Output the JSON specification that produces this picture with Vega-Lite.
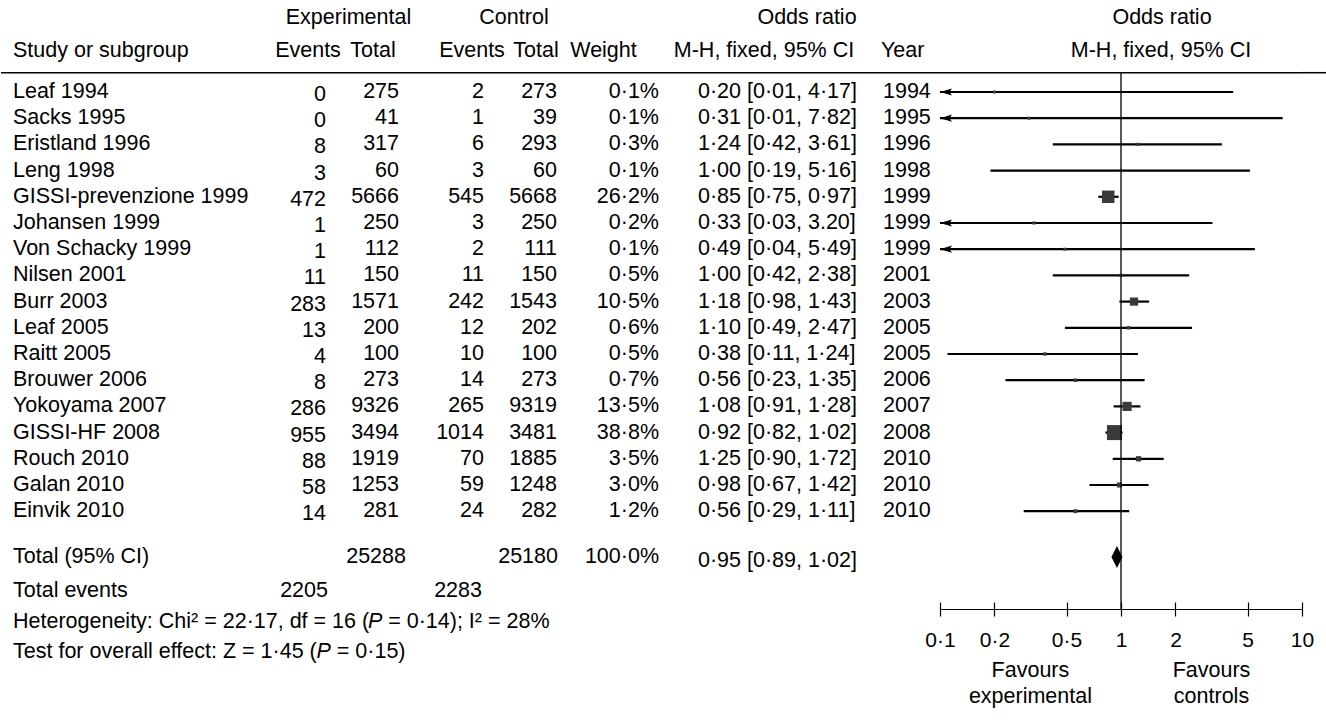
{
"$schema":"https://vega.github.io/schema/vega-lite/v6.json",
"padding":0,
"spacing":0,
"bounds":"flush",
"background":"white",
"config":{"view":{"stroke":null},"text":{"font":"Liberation Sans","fontSize":21.5,"fill":"black","baseline":"middle"},"concat":{"spacing":0}},
"datasets":{
"studies":[
{"study":"Leaf 1994","row":1,"eE":0,"eT":275,"cE":2,"cT":273,"wt":"0·1%","w":0.1,"ortxt":"0·20 [0·01, 4·17]","or":0.20,"lo":0.01,"hi":4.17,"year":1994},
{"study":"Sacks 1995","row":2,"eE":0,"eT":41,"cE":1,"cT":39,"wt":"0·1%","w":0.1,"ortxt":"0·31 [0·01, 7·82]","or":0.31,"lo":0.01,"hi":7.82,"year":1995},
{"study":"Eristland 1996","row":3,"eE":8,"eT":317,"cE":6,"cT":293,"wt":"0·3%","w":0.3,"ortxt":"1·24 [0·42, 3·61]","or":1.24,"lo":0.42,"hi":3.61,"year":1996},
{"study":"Leng 1998","row":4,"eE":3,"eT":60,"cE":3,"cT":60,"wt":"0·1%","w":0.1,"ortxt":"1·00 [0·19, 5·16]","or":1.00,"lo":0.19,"hi":5.16,"year":1998},
{"study":"GISSI-prevenzione 1999","row":5,"eE":472,"eT":5666,"cE":545,"cT":5668,"wt":"26·2%","w":26.2,"ortxt":"0·85 [0·75, 0·97]","or":0.85,"lo":0.75,"hi":0.97,"year":1999},
{"study":"Johansen 1999","row":6,"eE":1,"eT":250,"cE":3,"cT":250,"wt":"0·2%","w":0.2,"ortxt":"0·33 [0·03, 3.20]","or":0.33,"lo":0.03,"hi":3.20,"year":1999},
{"study":"Von Schacky 1999","row":7,"eE":1,"eT":112,"cE":2,"cT":111,"wt":"0·1%","w":0.1,"ortxt":"0·49 [0·04, 5·49]","or":0.49,"lo":0.04,"hi":5.49,"year":1999},
{"study":"Nilsen 2001","row":8,"eE":11,"eT":150,"cE":11,"cT":150,"wt":"0·5%","w":0.5,"ortxt":"1·00 [0·42, 2·38]","or":1.00,"lo":0.42,"hi":2.38,"year":2001},
{"study":"Burr 2003","row":9,"eE":283,"eT":1571,"cE":242,"cT":1543,"wt":"10·5%","w":10.5,"ortxt":"1·18 [0·98, 1·43]","or":1.18,"lo":0.98,"hi":1.43,"year":2003},
{"study":"Leaf 2005","row":10,"eE":13,"eT":200,"cE":12,"cT":202,"wt":"0·6%","w":0.6,"ortxt":"1·10 [0·49, 2·47]","or":1.10,"lo":0.49,"hi":2.47,"year":2005},
{"study":"Raitt 2005","row":11,"eE":4,"eT":100,"cE":10,"cT":100,"wt":"0·5%","w":0.5,"ortxt":"0·38 [0·11, 1·24]","or":0.38,"lo":0.11,"hi":1.24,"year":2005},
{"study":"Brouwer 2006","row":12,"eE":8,"eT":273,"cE":14,"cT":273,"wt":"0·7%","w":0.7,"ortxt":"0·56 [0·23, 1·35]","or":0.56,"lo":0.23,"hi":1.35,"year":2006},
{"study":"Yokoyama 2007","row":13,"eE":286,"eT":9326,"cE":265,"cT":9319,"wt":"13·5%","w":13.5,"ortxt":"1·08 [0·91, 1·28]","or":1.08,"lo":0.91,"hi":1.28,"year":2007},
{"study":"GISSI-HF 2008","row":14,"eE":955,"eT":3494,"cE":1014,"cT":3481,"wt":"38·8%","w":38.8,"ortxt":"0·92 [0·82, 1·02]","or":0.92,"lo":0.82,"hi":1.02,"year":2008},
{"study":"Rouch 2010","row":15,"eE":88,"eT":1919,"cE":70,"cT":1885,"wt":"3·5%","w":3.5,"ortxt":"1·25 [0·90, 1·72]","or":1.25,"lo":0.90,"hi":1.72,"year":2010},
{"study":"Galan 2010","row":16,"eE":58,"eT":1253,"cE":59,"cT":1248,"wt":"3·0%","w":3.0,"ortxt":"0·98 [0·67, 1·42]","or":0.98,"lo":0.67,"hi":1.42,"year":2010},
{"study":"Einvik 2010","row":17,"eE":14,"eT":281,"cE":24,"cT":282,"wt":"1·2%","w":1.2,"ortxt":"0·56 [0·29, 1·11]","or":0.56,"lo":0.29,"hi":1.11,"year":2010}
],
"totals":[{"label":"Total (95% CI)","eT":25288,"cT":25180,"wt":"100·0%","ortxt":"0·95 [0·89, 1·02]","or":0.95,"lo":0.89,"hi":1.02,"eEtot":2205,"cEtot":2283}],
"annot":[{}]
},
"hconcat":[
{"width":262,"height":721,"layer":[
 {"data":{"name":"studies"},"mark":{"type":"text","align":"left","dx":-119},"encoding":{"y":{"field":"row","type":"quantitative","scale":{"domain":[-2.511,25.008],"reverse":true,"nice":false,"zero":false},"axis":null},"text":{"field":"study","type":"nominal"}}},
 {"data":{"name":"annot"},"mark":{"type":"text","align":"left","dx":-119,"text":"Study or subgroup"},"encoding":{"y":{"datum":-0.564,"type":"quantitative","axis":null}}},
 {"data":{"name":"totals"},"mark":{"type":"text","align":"left","dx":-119},"encoding":{"y":{"datum":18.75,"type":"quantitative","axis":null},"text":{"field":"label","type":"nominal"}}},
 {"data":{"name":"annot"},"mark":{"type":"text","align":"left","dx":-119,"text":"Total events"},"encoding":{"y":{"datum":20.05,"type":"quantitative","axis":null}}},
 {"data":{"name":"annot"},"mark":{"type":"text","align":"left","dx":-119,"text":"Heterogeneity: Chi² = 22·17, df = 16 ("},"encoding":{"y":{"datum":21.23,"type":"quantitative","axis":null}}},
 {"data":{"name":"annot"},"mark":{"type":"text","align":"left","dx":235.9,"fontStyle":"italic","text":"P"},"encoding":{"y":{"datum":21.23,"type":"quantitative","axis":null}}},
 {"data":{"name":"annot"},"mark":{"type":"text","align":"left","dx":256.2,"text":"= 0·14); I² = 28%"},"encoding":{"y":{"datum":21.23,"type":"quantitative","axis":null}}},
 {"data":{"name":"annot"},"mark":{"type":"text","align":"left","dx":-119,"text":"Test for overall effect: Z = 1·45 ("},"encoding":{"y":{"datum":22.37,"type":"quantitative","axis":null}}},
 {"data":{"name":"annot"},"mark":{"type":"text","align":"left","dx":184.5,"fontStyle":"italic","text":"P"},"encoding":{"y":{"datum":22.37,"type":"quantitative","axis":null}}},
 {"data":{"name":"annot"},"mark":{"type":"text","align":"left","dx":204.8,"text":"= 0·15)"},"encoding":{"y":{"datum":22.37,"type":"quantitative","axis":null}}},
 {"data":{"name":"annot"},"mark":{"type":"rule","color":"black","strokeWidth":1.5},"encoding":{"y":{"datum":0.264,"type":"quantitative","axis":null}}}
]},
{"width":78,"height":721,"layer":[
 {"data":{"name":"annot"},"mark":{"type":"text","dx":6,"text":"Events"},"encoding":{"y":{"datum":-0.564,"type":"quantitative","scale":{"domain":[-2.511,25.008],"reverse":true,"nice":false,"zero":false},"axis":null}}},
 {"data":{"name":"studies"},"mark":{"type":"text","align":"right","dx":24,"dy":3},"encoding":{"y":{"field":"row","type":"quantitative","axis":null},"text":{"field":"eE","type":"nominal"}}},
 {"data":{"name":"totals"},"mark":{"type":"text","align":"right","dx":26},"encoding":{"y":{"datum":20.05,"type":"quantitative","axis":null},"text":{"field":"eEtot","type":"nominal"}}},
 {"data":{"name":"annot"},"mark":{"type":"rule","color":"black","strokeWidth":1.5},"encoding":{"y":{"datum":0.264,"type":"quantitative","axis":null}}}
]},
{"width":70,"height":721,"layer":[
 {"data":{"name":"annot"},"mark":{"type":"text","dx":-27.5,"text":"Experimental"},"encoding":{"y":{"datum":-1.824,"type":"quantitative","scale":{"domain":[-2.511,25.008],"reverse":true,"nice":false,"zero":false},"axis":null}}},
 {"data":{"name":"annot"},"mark":{"type":"text","dx":-3,"text":"Total"},"encoding":{"y":{"datum":-0.564,"type":"quantitative","axis":null}}},
 {"data":{"name":"studies"},"mark":{"type":"text","align":"right","dx":23},"encoding":{"y":{"field":"row","type":"quantitative","axis":null},"text":{"field":"eT","type":"nominal"}}},
 {"data":{"name":"totals"},"mark":{"type":"text","align":"right","dx":30},"encoding":{"y":{"datum":18.75,"type":"quantitative","axis":null},"text":{"field":"eT","type":"nominal"}}},
 {"data":{"name":"annot"},"mark":{"type":"rule","color":"black","strokeWidth":1.5},"encoding":{"y":{"datum":0.264,"type":"quantitative","axis":null}}}
]},
{"width":85,"height":721,"layer":[
 {"data":{"name":"annot"},"mark":{"type":"text","dx":18.5,"text":"Events"},"encoding":{"y":{"datum":-0.564,"type":"quantitative","scale":{"domain":[-2.511,25.008],"reverse":true,"nice":false,"zero":false},"axis":null}}},
 {"data":{"name":"studies"},"mark":{"type":"text","align":"right","dx":30.5},"encoding":{"y":{"field":"row","type":"quantitative","axis":null},"text":{"field":"cE","type":"nominal"}}},
 {"data":{"name":"totals"},"mark":{"type":"text","align":"right","dx":28.5},"encoding":{"y":{"datum":20.05,"type":"quantitative","axis":null},"text":{"field":"cEtot","type":"nominal"}}},
 {"data":{"name":"annot"},"mark":{"type":"rule","color":"black","strokeWidth":1.5},"encoding":{"y":{"datum":0.264,"type":"quantitative","axis":null}}}
]},
{"width":75,"height":721,"layer":[
 {"data":{"name":"annot"},"mark":{"type":"text","dx":-19.5,"text":"Control"},"encoding":{"y":{"datum":-1.824,"type":"quantitative","scale":{"domain":[-2.511,25.008],"reverse":true,"nice":false,"zero":false},"axis":null}}},
 {"data":{"name":"annot"},"mark":{"type":"text","dx":2.5,"text":"Total"},"encoding":{"y":{"datum":-0.564,"type":"quantitative","axis":null}}},
 {"data":{"name":"studies"},"mark":{"type":"text","align":"right","dx":23.5},"encoding":{"y":{"field":"row","type":"quantitative","axis":null},"text":{"field":"cT","type":"nominal"}}},
 {"data":{"name":"totals"},"mark":{"type":"text","align":"right","dx":24.5},"encoding":{"y":{"datum":18.75,"type":"quantitative","axis":null},"text":{"field":"cT","type":"nominal"}}},
 {"data":{"name":"annot"},"mark":{"type":"rule","color":"black","strokeWidth":1.5},"encoding":{"y":{"datum":0.264,"type":"quantitative","axis":null}}}
]},
{"width":100,"height":721,"layer":[
 {"data":{"name":"annot"},"mark":{"type":"text","dx":-17.5,"text":"Weight"},"encoding":{"y":{"datum":-0.564,"type":"quantitative","scale":{"domain":[-2.511,25.008],"reverse":true,"nice":false,"zero":false},"axis":null}}},
 {"data":{"name":"studies"},"mark":{"type":"text","align":"right","dx":38},"encoding":{"y":{"field":"row","type":"quantitative","axis":null},"text":{"field":"wt","type":"nominal"}}},
 {"data":{"name":"totals"},"mark":{"type":"text","align":"right","dx":38},"encoding":{"y":{"datum":18.75,"type":"quantitative","axis":null},"text":{"field":"wt","type":"nominal"}}},
 {"data":{"name":"annot"},"mark":{"type":"rule","color":"black","strokeWidth":1.5},"encoding":{"y":{"datum":0.264,"type":"quantitative","axis":null}}}
]},
{"width":200,"height":721,"layer":[
 {"data":{"name":"annot"},"mark":{"type":"text","dx":36,"text":"Odds ratio"},"encoding":{"y":{"datum":-1.824,"type":"quantitative","scale":{"domain":[-2.511,25.008],"reverse":true,"nice":false,"zero":false},"axis":null}}},
 {"data":{"name":"annot"},"mark":{"type":"text","dx":-7,"text":"M-H, fixed, 95% CI"},"encoding":{"y":{"datum":-0.564,"type":"quantitative","axis":null}}},
 {"data":{"name":"studies"},"mark":{"type":"text","align":"left","dx":-73},"encoding":{"y":{"field":"row","type":"quantitative","axis":null},"text":{"field":"ortxt","type":"nominal"}}},
 {"data":{"name":"totals"},"mark":{"type":"text","align":"left","dx":-73,"dy":4},"encoding":{"y":{"datum":18.75,"type":"quantitative","axis":null},"text":{"field":"ortxt","type":"nominal"}}},
 {"data":{"name":"annot"},"mark":{"type":"rule","color":"black","strokeWidth":1.5},"encoding":{"y":{"datum":0.264,"type":"quantitative","axis":null}}}
]},
{"width":69,"height":721,"layer":[
 {"data":{"name":"annot"},"mark":{"type":"text","align":"left","dx":-24.5,"text":"Year"},"encoding":{"y":{"datum":-0.564,"type":"quantitative","scale":{"domain":[-2.511,25.008],"reverse":true,"nice":false,"zero":false},"axis":null}}},
 {"data":{"name":"studies"},"mark":{"type":"text","align":"left","dx":-22.5},"encoding":{"y":{"field":"row","type":"quantitative","axis":null},"text":{"field":"year","type":"nominal"}}},
 {"data":{"name":"annot"},"mark":{"type":"rule","color":"black","strokeWidth":1.5},"encoding":{"y":{"datum":0.264,"type":"quantitative","axis":null}}}
]},
{"width":362,"height":721,"resolve":{"axis":{"x":"independent"}},"layer":[
 {"layer":[
  {"data":{"name":"studies"},"mark":{"type":"rule","color":"black","strokeWidth":2.2},"encoding":{
    "x":{"field":"lo","type":"quantitative","scale":{"type":"log","domain":[0.1,10],"nice":false,"clamp":true},
      "axis":{"orient":"bottom","offset":-112,"values":[0.1,0.2,0.5,1,2,5,10],"labelExpr":"replace(format(datum.value, '~g'), '.', '·')","labelFlush":false,"labelOverlap":false,"labelBound":false,"labelFont":"Liberation Sans","labelFontSize":21,"labelColor":"black","labelPadding":13,"domainColor":"black","domainWidth":1.2,"tickColor":"black","tickWidth":1.2,"tickSize":7,"grid":false,"title":null}},
    "x2":{"field":"hi"},
    "y":{"field":"row","type":"quantitative","scale":{"domain":[-2.511,25.008],"reverse":true,"nice":false,"zero":false},"axis":null}}},
  {"data":{"name":"studies"},"transform":[{"filter":"datum.lo < 0.1"}],"mark":{"type":"point","shape":"M0,0L1,-0.3L0.8,0L1,0.3Z","filled":true,"color":"black","opacity":1,"size":576,"strokeWidth":0},"encoding":{"x":{"field":"lo","type":"quantitative"},"y":{"field":"row","type":"quantitative","axis":null}}},
  {"data":{"name":"studies"},"mark":{"type":"square","filled":true,"color":"#3a3a3a","opacity":1},"encoding":{"x":{"field":"or","type":"quantitative"},"y":{"field":"row","type":"quantitative","axis":null},"size":{"field":"w","type":"quantitative","scale":{"domain":[0.1,38.8],"range":[9,225],"zero":false},"legend":null}}},
  {"data":{"name":"totals"},"mark":{"type":"point","shape":"M-0.5,0L0,-1L0.5,0L0,1Z","filled":true,"color":"black","opacity":1,"size":484,"strokeWidth":0},"encoding":{"x":{"field":"or","type":"quantitative"},"y":{"datum":18.75,"type":"quantitative","axis":null}}},
  {"data":{"name":"annot"},"mark":{"type":"text","dx":41,"text":"Odds ratio"},"encoding":{"y":{"datum":-1.824,"type":"quantitative","axis":null}}},
  {"data":{"name":"annot"},"mark":{"type":"text","dx":40,"text":"M-H, fixed, 95% CI"},"encoding":{"y":{"datum":-0.564,"type":"quantitative","axis":null}}},
  {"data":{"name":"annot"},"mark":{"type":"text","text":"Favours"},"encoding":{"x":{"datum":0.316,"type":"quantitative"},"y":{"datum":23.10,"type":"quantitative","axis":null}}},
  {"data":{"name":"annot"},"mark":{"type":"text","text":"experimental"},"encoding":{"x":{"datum":0.316,"type":"quantitative"},"y":{"datum":24.09,"type":"quantitative","axis":null}}},
  {"data":{"name":"annot"},"mark":{"type":"text","text":"Favours"},"encoding":{"x":{"datum":3.162,"type":"quantitative"},"y":{"datum":23.10,"type":"quantitative","axis":null}}},
  {"data":{"name":"annot"},"mark":{"type":"text","text":"controls"},"encoding":{"x":{"datum":3.162,"type":"quantitative"},"y":{"datum":24.09,"type":"quantitative","axis":null}}},
  {"data":{"name":"annot"},"mark":{"type":"rule","color":"black","strokeWidth":1.5},"encoding":{"y":{"datum":0.264,"type":"quantitative","axis":null}}}
 ]},
 {"data":{"name":"annot"},"mark":{"type":"rule","color":"black","strokeWidth":1.3},"encoding":{
   "x":{"datum":1,"type":"quantitative","axis":{"orient":"bottom","offset":-112,"values":[0.1,0.2,0.5,1,2,5,10],"labels":false,"domain":false,"ticks":true,"tickSize":-7,"tickColor":"black","tickWidth":1.2,"grid":false,"title":null}},
   "y":{"datum":0.264,"type":"quantitative","axis":null},"y2":{"datum":20.733}}}
]},
{"width":25,"height":721,"layer":[
 {"data":{"name":"annot"},"mark":{"type":"rule","color":"black","strokeWidth":1.5},"encoding":{"y":{"datum":0.264,"type":"quantitative","scale":{"domain":[-2.511,25.008],"reverse":true,"nice":false,"zero":false},"axis":null}}}
]}
]
}
